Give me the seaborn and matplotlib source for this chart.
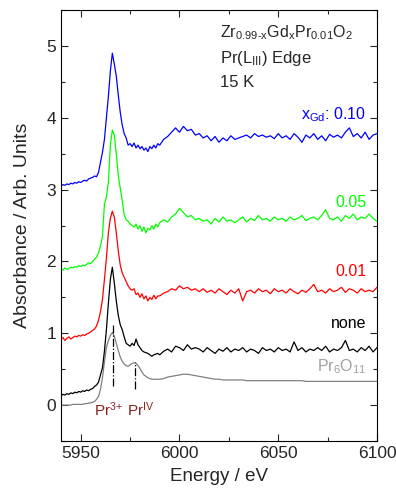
import numpy as np
import pandas as pd
import matplotlib
matplotlib.use("Agg")
import matplotlib.pyplot as plt
import seaborn as sns
from matplotlib.ticker import MultipleLocator

sns.set_style("ticks")
plt.rcParams['font.family'] = ['Liberation Sans', 'DejaVu Sans']
plt.rcParams['mathtext.fontset'] = 'custom'
plt.rcParams['mathtext.rm'] = 'Liberation Sans'
plt.rcParams['mathtext.it'] = 'Liberation Sans'

# energy grid: 1 eV steps up to 5990, 2 eV steps after
energy = np.concatenate([np.arange(5940, 5991, 1), np.arange(5992, 6101, 2)])

gd_010 = [3.05, 3.07, 3.06, 3.08, 3.07, 3.09, 3.08, 3.10, 3.09, 3.11,
          3.10, 3.12, 3.13, 3.12, 3.15, 3.16, 3.17, 3.19, 3.18, 3.24,
          3.38, 3.52, 3.70, 4.00, 4.30, 4.65, 4.90, 4.75, 4.58, 4.32,
          4.08, 3.90, 3.78, 3.72, 3.62, 3.64, 3.60, 3.65, 3.58, 3.62,
          3.57, 3.60, 3.55, 3.58, 3.53, 3.60, 3.57, 3.62, 3.58, 3.64,
          3.62, 3.70, 3.74, 3.80, 3.86, 3.80, 3.88, 3.82, 3.84, 3.76,
          3.78, 3.72, 3.75, 3.68, 3.74, 3.66, 3.72, 3.68, 3.75, 3.70,
          3.72, 3.74, 3.76, 3.72, 3.78, 3.74, 3.76, 3.73, 3.75, 3.71,
          3.78, 3.72, 3.75, 3.70, 3.78, 3.73, 3.66, 3.76, 3.72, 3.78,
          3.70, 3.75, 3.68, 3.77, 3.73, 3.76, 3.72, 3.80, 3.86, 3.74,
          3.78, 3.72, 3.80, 3.70, 3.76, 3.78]

gd_005 = [1.90, 1.88, 1.91, 1.89, 1.90, 1.92, 1.91, 1.93, 1.92, 1.94,
          1.93, 1.95, 1.94, 1.96, 1.98, 1.97, 2.00, 2.03, 2.06, 2.12,
          2.22, 2.35, 2.80, 2.90, 3.10, 3.62, 3.83, 3.76, 3.50, 3.20,
          3.02, 2.85, 2.65, 2.58, 2.56, 2.52, 2.50, 2.48, 2.52, 2.45,
          2.50, 2.42, 2.48, 2.40, 2.46, 2.44, 2.50, 2.45, 2.52, 2.48,
          2.54, 2.58, 2.55, 2.62, 2.66, 2.74, 2.68, 2.62, 2.64, 2.58,
          2.60, 2.56, 2.58, 2.52, 2.60, 2.55, 2.62, 2.56, 2.58, 2.54,
          2.58, 2.62, 2.55, 2.60, 2.57, 2.64, 2.58, 2.60, 2.56, 2.62,
          2.58, 2.60, 2.56, 2.62, 2.58, 2.60, 2.64, 2.57, 2.60, 2.62,
          2.58, 2.64, 2.72, 2.60, 2.58, 2.62, 2.56, 2.64, 2.60, 2.66,
          2.58, 2.62, 2.60, 2.66, 2.60, 2.56]

gd_001 = [0.92, 0.94, 0.90, 0.93, 0.95, 0.92, 0.94, 0.96, 0.95, 0.97,
          0.96, 0.98, 0.97, 0.99, 1.00, 1.02, 1.04, 1.06, 1.10, 1.18,
          1.30, 1.47, 1.75, 2.05, 2.40, 2.60, 2.70, 2.62, 2.40, 2.15,
          1.95, 1.84, 1.78, 1.72, 1.66, 1.62, 1.60, 1.62, 1.54, 1.56,
          1.50, 1.55, 1.48, 1.52, 1.45, 1.50, 1.47, 1.53, 1.48, 1.52,
          1.52, 1.56, 1.58, 1.62, 1.60, 1.66, 1.62, 1.64, 1.60, 1.62,
          1.58, 1.62, 1.57, 1.60, 1.56, 1.62, 1.58, 1.54, 1.60, 1.56,
          1.62, 1.45, 1.58, 1.60, 1.56, 1.62, 1.58, 1.60, 1.55, 1.62,
          1.58, 1.60, 1.56, 1.62, 1.58, 1.55, 1.60, 1.57, 1.62, 1.68,
          1.58, 1.60, 1.56, 1.62, 1.58, 1.60, 1.64, 1.57, 1.62, 1.60,
          1.56, 1.62, 1.58, 1.60, 1.58, 1.64]

gd_none = [0.13, 0.15, 0.14, 0.16, 0.15, 0.17, 0.16, 0.18, 0.17, 0.19,
           0.18, 0.20, 0.19, 0.21, 0.20, 0.22, 0.23, 0.26, 0.28, 0.32,
           0.42, 0.52, 0.75, 1.05, 1.42, 1.75, 1.92, 1.70, 1.45, 1.25,
           1.12, 1.05, 0.95, 0.86, 0.84, 0.82, 0.86, 0.83, 0.92, 0.84,
           0.80, 0.76, 0.74, 0.73, 0.72, 0.70, 0.68, 0.70, 0.71, 0.72,
           0.70, 0.75, 0.78, 0.74, 0.82, 0.80, 0.76, 0.84, 0.78, 0.80,
           0.78, 0.74, 0.80, 0.76, 0.72, 0.78, 0.75, 0.80, 0.74, 0.78,
           0.76, 0.80, 0.74, 0.78, 0.76, 0.72, 0.80, 0.76, 0.78, 0.74,
           0.80, 0.76, 0.78, 0.74, 0.88, 0.76, 0.80, 0.74, 0.78, 0.76,
           0.80, 0.76, 0.82, 0.74, 0.78, 0.76, 0.80, 0.90, 0.76, 0.78,
           0.74, 0.80, 0.76, 0.82, 0.74, 0.80]

pr6o11 = [0.00, 0.00, 0.00, 0.00, 0.00, 0.00, 0.01, 0.01, 0.01, 0.01,
          0.01, 0.01, 0.02, 0.02, 0.03, 0.03, 0.04, 0.05, 0.08, 0.12,
          0.22, 0.38, 0.60, 0.80, 0.90, 0.97, 1.01, 0.96, 0.86, 0.76,
          0.67, 0.61, 0.57, 0.55, 0.54, 0.56, 0.58, 0.59, 0.58, 0.55,
          0.51, 0.46, 0.42, 0.40, 0.38, 0.37, 0.36, 0.36, 0.36, 0.36,
          0.36, 0.37, 0.39, 0.40, 0.41, 0.42, 0.43, 0.43, 0.42, 0.41,
          0.40, 0.39, 0.38, 0.37, 0.36, 0.36, 0.35, 0.35, 0.35, 0.35,
          0.35, 0.35, 0.34, 0.34, 0.34, 0.34, 0.34, 0.34, 0.34, 0.34,
          0.34, 0.34, 0.34, 0.34, 0.34, 0.34, 0.34, 0.33, 0.33, 0.33,
          0.33, 0.33, 0.33, 0.33, 0.33, 0.33, 0.33, 0.33, 0.33, 0.33,
          0.33, 0.33, 0.33, 0.33, 0.33, 0.33]

series = [("pr6o11", pr6o11, "#808080"),
          ("none", gd_none, "black"),
          ("0.01", gd_001, "#ff0000"),
          ("0.05", gd_005, "#00ff00"),
          ("0.10", gd_010, "#0000ff")]

fig = plt.figure(figsize=(3.96, 4.88), dpi=100)
ax = fig.add_axes([0.154, 0.0963, 0.798, 0.883])

for name, vals, col in series:
    sns.lineplot(x=energy, y=vals, ax=ax, color=col, lw=0.9, sort=False, estimator=None)

# Pr3+ / PrIV markers
ax.plot([5966.5, 5966.5], [0.27, 1.15], color="black", lw=0.9, ls="-.")
ax.plot([5977.6, 5977.6], [0.22, 0.60], color="black", lw=0.9, ls="-.")
ax.text(5964, -0.06, r"Pr$^{3{+}}$", color="#8b2020", fontsize=11, ha="center", va="center")
ax.text(5980.5, -0.06, r"Pr$^{IV}$", color="#8b2020", fontsize=11, ha="center", va="center")

# series labels
ax.text(6094.5, 4.04, r"x$_{Gd}$: 0.10", color="#0000ff", fontsize=11.5, ha="right", va="center")
ax.text(6094.5, 2.82, "0.05", color="#00ff00", fontsize=11.5, ha="right", va="center")
ax.text(6094.5, 1.86, "0.01", color="#ff0000", fontsize=11.5, ha="right", va="center")
ax.text(6094.5, 1.14, "none", color="black", fontsize=11.5, ha="right", va="center")
ax.text(6094.5, 0.54, r"Pr$_6$O$_{11}$", color="#a0a0a0", fontsize=11.5, ha="right", va="center")

# sample info
ax.text(6020.4, 5.18, r"Zr$_{0.99\text{-}x}$Gd$_x$Pr$_{0.01}$O$_2$", fontsize=11.5, ha="left", va="center")
ax.text(6020.4, 4.83, r"Pr(L$_{III}$) Edge", fontsize=12, ha="left", va="center")
ax.text(6020.4, 4.49, "15 K", fontsize=12, ha="left", va="center")

ax.set_xlim(5940, 6100)
ax.set_ylim(-0.5, 5.5)
ax.xaxis.set_major_locator(MultipleLocator(50))
ax.xaxis.set_minor_locator(MultipleLocator(25))
ax.yaxis.set_major_locator(MultipleLocator(1))
ax.yaxis.set_minor_locator(MultipleLocator(0.5))
ax.tick_params(which="both", direction="in", top=True, right=True, labelsize=12.5, width=0.8)
ax.tick_params(which="major", length=5)
ax.tick_params(which="minor", length=3)
for sp in ax.spines.values():
    sp.set_linewidth(0.8)
    sp.set_color("black")

ax.set_xlabel("Energy / eV", fontsize=13.5, labelpad=5)
ax.set_ylabel("Absorbance / Arb. Units", fontsize=14, labelpad=11)

fig.savefig("out.png", dpi=100)
